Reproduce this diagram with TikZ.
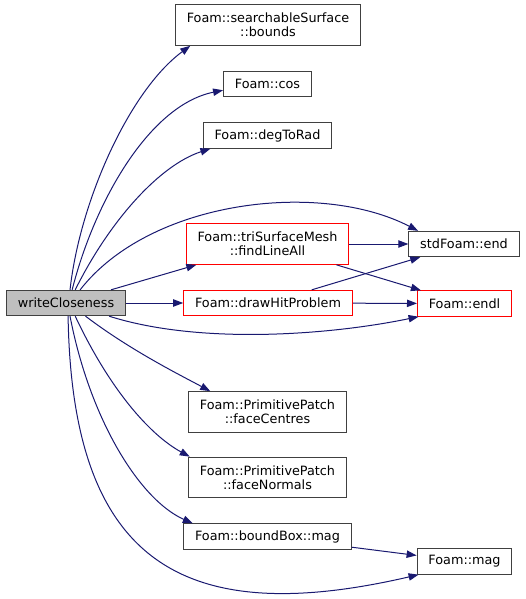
\documentclass[tikz,border=0pt]{standalone}
\usepackage{fontspec}
\setmainfont{DejaVu Sans}
\usetikzlibrary{arrows.meta}
\definecolor{edgeblue}{HTML}{191970}
\definecolor{boxgrey}{HTML}{404040}
\definecolor{callerfill}{HTML}{BFBFBF}

\begin{document}
\begin{tikzpicture}[
        x=0.75pt, y=-0.75pt,
        every node/.style={fill=white, font=\fontsize{9.6}{10.5}\selectfont, draw=boxgrey, line width=0.75pt, rectangle, inner xsep=8.5pt, inner ysep=2pt, minimum height=19pt, align=center},
        twoline/.style={minimum height=30.5pt},
        hit/.style={draw=red},
        arrow/.style={draw=edgeblue, line width=0.75pt, -{Triangle[length=7.5pt,width=5.5pt]}}
    ]
    \useasboundingbox (0,0) rectangle (525,599);
    % Nodes
    \node (close) [fill=callerfill] at (66,303) {writeCloseness};
    \node (bounds) [twoline] at (268,25) {Foam::searchableSurface\\::bounds};
    \node (cos) at (267.5,84) {Foam::cos};
    \node (deg) at (267.5,135.5) {Foam::degToRad};
    \node (findline) [twoline, hit] at (267.5,244) {Foam::triSurfaceMesh\\::findLineAll};
    \node (drawhit) [hit] at (268,303) {Foam::drawHitProblem};
    \node (stdend) at (464,244) {stdFoam::end};
    \node (endl) [hit] at (464.5,303.5) {Foam::endl};
    \node (centres) [twoline] at (267.5,412) {Foam::PrimitivePatch\\::faceCentres};
    \node (normals) [twoline] at (267.5,477.5) {Foam::PrimitivePatch\\::faceNormals};
    \node (bbmag) at (267.5,536.5) {Foam::boundBox::mag};
    \node (mag) at (464.5,561.5) {Foam::mag};

    % Arrows
    \draw [arrow] (close.73) .. controls (80,200) and (130,90) .. (bounds.195);
    \draw [arrow] (close.65) .. controls (95,200) and (150,105) .. (cos.188);
    \draw [arrow] (close.55) .. controls (110,220) and (160,165) .. (deg.193);
    \draw [arrow] (close.43) .. controls (150,200) and (320,180) .. (stdend.164);
    \draw [arrow] (close) -- (findline);
    \draw [arrow] (close) -- (drawhit);
    \draw [arrow] (close.343) .. controls (200,345) and (330,335) .. (endl.196);
    \draw [arrow] (close.326) .. controls (130,350) and (180,375) .. (centres.160);
    \draw [arrow] (close.305) .. controls (110,390) and (150,435) .. (normals.165);
    \draw [arrow] (close.287) .. controls (90,420) and (140,500) .. (bbmag.170);
    \draw [arrow] (close.279) .. controls (72,560) and (180,630) .. (mag.196);
    \draw [arrow] (findline) -- (stdend);
    \draw [arrow] (findline) -- (endl);
    \draw [arrow] (drawhit) -- (stdend);
    \draw [arrow] (drawhit) -- (endl);
    \draw [arrow] (bbmag) -- (mag);
\end{tikzpicture}
\end{document}
